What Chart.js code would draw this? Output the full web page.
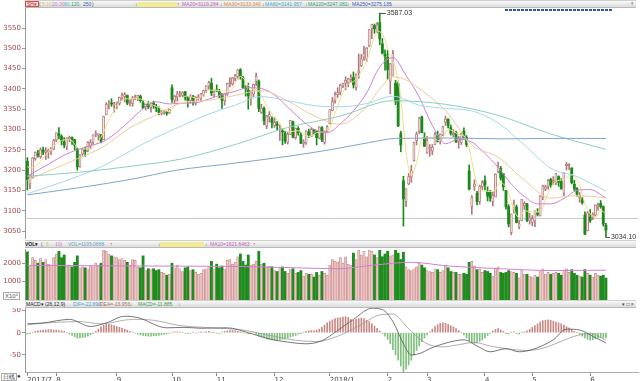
<!DOCTYPE html>
<html>
<head>
<meta charset="utf-8">
<script src="https://cdn.jsdelivr.net/npm/chart.js@4.4.0/dist/chart.umd.min.js"></script>
<style>
html, body { margin: 0; padding: 0; background: #fff; width: 640px; height: 381px; overflow: hidden; }
canvas { position: absolute; left: 0; }
.bar { position: absolute; left: 25px; width: 611px; height: 6px; background: linear-gradient(#f8f8f8, #dcdcdc);
       border-top: 1px solid #d0d0d0; border-bottom: 1px solid #bababa; font: 5px "Liberation Sans", sans-serif; z-index: 2; }
.bar span { position: absolute; top: 0.5px; line-height: 5px; white-space: nowrap; }
.bar .hl { background: #f3ea96; height: 5px; }
.bar .mk { color: #2a8a2a; }
.bar .rd { color: #d03030; }
.tag { border: 1px solid #d05050; background: #f8dcdc; color: #c03030; height: 4px; line-height: 4px !important; padding: 0 1px; top: 0 !important; }
.note { position: absolute; font: 6px "Liberation Sans", sans-serif; color: #555; }
#scroll { position: absolute; left: 505px; top: 9px; width: 107px; height: 2px; z-index: 2;
          background: repeating-linear-gradient(90deg, #2b55a8 0 3px, #fff 3px 4px); }
</style>
</head>
<body>
<div class="bar" style="top:0">
  <span class="tag" style="left:0">SH▾</span>
  <span style="left:14px;color:#555">(</span>
  <span style="left:17px;color:#d8c860">5,10,</span>
  <span style="left:27px;color:#d070c8">20,30,</span>
  <span style="left:39px;color:#40b8d0">60,</span>
  <span style="left:46px;color:#30a070">120,</span>
  <span style="left:58px;color:#3060c8">250</span>
  <span style="left:67px;color:#555">)</span>
  <span class="mk" style="left:110px">↓</span>
  <span class="hl" style="left:113px;width:39px"></span>
  <span class="rd" style="left:152px">↑</span>
  <span style="left:157px;color:#c060c0">MA20=3119.284</span>
  <span class="mk" style="left:195px">↓</span>
  <span style="left:199px;color:#d89040">MA30=3133.340</span>
  <span class="mk" style="left:237px">↓</span>
  <span style="left:240px;color:#40a8d0">MA60=3141.957</span>
  <span class="mk" style="left:280px">↓</span>
  <span style="left:283px;color:#30a070">MA120=3247.082</span>
  <span class="mk" style="left:322px">↓</span>
  <span style="left:327px;color:#3060c0">MA250=3275.135</span>
  <span class="mk" style="left:365px">↓</span>
  <span style="left:605px;color:#555">⇡</span>
</div>
<div id="scroll"></div>
<div class="bar" style="top:240px">
  <span style="left:0;color:#222;font-weight:bold">VOL▾</span>
  <span style="left:16px;color:#555">(</span>
  <span style="left:21px;color:#d8c860">5,</span>
  <span style="left:30px;color:#d070c8">10)</span>
  <span style="left:43px;color:#60a0d0">VOL=1195.0888</span>
  <span class="rd" style="left:85px">↑</span>
  <span class="mk" style="left:133px">↓</span>
  <span class="hl" style="left:135px;width:44px"></span>
  <span class="mk" style="left:180px">↓</span>
  <span style="left:185px;color:#c060c0">MA10=1621.6463</span>
  <span class="rd" style="left:228px">↑</span>
</div>
<div class="bar" style="top:300px">
  <span style="left:1px;color:#222">MACD▾ (26,12,9)</span>
  <span style="left:48px;color:#50a0d0">DIF=-22.899</span>
  <span class="mk" style="left:72px">↓</span>
  <span style="left:75px;color:#b07050">DEA=-16.956</span>
  <span class="mk" style="left:105px">↓</span>
  <span style="left:113px;color:#40a040">MACD=-11.885</span>
  <span class="mk" style="left:153px">↓</span>
  <span style="left:597px;color:#444">▾ □ ×</span>
</div>
<div class="note" style="left:3px;top:292px;border:1px solid #aaa;padding:0 1px;line-height:6px">X10⁵</div>
<div class="note" style="left:1px;top:373px;border:1px solid #aaa;padding:0 1px;line-height:6px;color:#333">日线</div>
<div class="note" style="left:17px;top:373px;color:#333">●</div>

<canvas id="c1" width="640" height="233" style="top:8px"></canvas>
<canvas id="c2" width="640" height="51" style="top:249px"></canvas>
<canvas id="c3" width="640" height="73" style="top:308px"></canvas>

<script>
// trading days, index 0 = 2017-07-17 ... index 220 = 2018-06-11
const monthStarts = [0, 11, 34, 55, 72, 94, 115, 137, 152, 174, 192, 214];
const monthLabels = ['2017/7', '8', '9', '10', '11', '12', '2018/1', '2', '3', '4', '5', '6'];

const openP = [
  3222,3166,3182,3228,3240,3233,3250,3244,3246,3245,3252,
  3274,3290,3283,3269,3257,3277,3280,3275,3252,3208,3240,3248,3247,3259,3269,3287,3286,3287,3275,3336,3363,3364,3361,
  3365,3364,3377,3381,3384,3364,3364,3377,3377,3382,3366,3356,3363,3354,3366,3357,3351,3340,3341,3342,3341,
  3403,3372,3380,3386,3384,3393,3377,3372,3382,3365,3378,3379,3387,3396,3407,3414,3385,
  3396,3393,3383,3371,3388,3413,3413,3426,3430,3447,3427,3401,3397,3376,3387,3419,3419,3342,3352,3309,3331,3327,
  3310,3314,3301,3296,3290,3269,3288,3319,3280,3303,3287,3266,3267,3295,3283,3298,3295,3279,3305,3268,3295,
  3314,3347,3371,3386,3392,3407,3414,3415,3423,3428,3403,3439,3458,3478,3473,3506,3549,3556,3541,3563,3511,3485,
  3478,3419,3434,3414,3413,3290,3174,3123,3166,3183,3223,3273,3296,3331,3280,
  3242,3253,3247,3263,3285,3272,3286,3318,3325,3305,3287,3293,3271,3268,3296,3281,3198,3110,3160,3143,3123,3160,
  3174,3148,3146,3123,3134,3196,3204,3191,3150,3110,3046,3102,3109,3060,3075,3112,3117,3075,
  3071,3075,3094,3087,3134,3153,3160,3177,3171,3171,3184,3172,3143,3211,3211,3205,3165,3155,3133,3127,3089,3051,
  3084,3084,3089,3112,3118,3110,3064
];
const highP = [
  3231,3188,3231,3245,3249,3255,3257,3256,3252,3256,3276,
  3292,3305,3287,3280,3280,3284,3282,3276,3255,3238,3254,3257,3270,3275,3287,3297,3290,3288,3333,3366,3371,3376,3367,
  3368,3380,3390,3391,3385,3373,3382,3385,3384,3385,3371,3363,3369,3366,3370,3362,3356,3347,3347,3345,3350,
  3410,3384,3394,3394,3393,3394,3381,3386,3384,3381,3386,3389,3397,3408,3419,3426,3397,
  3410,3399,3389,3389,3414,3428,3428,3436,3448,3450,3431,3408,3414,3395,3412,3439,3422,3362,3356,3335,3344,3331,
  3329,3320,3311,3302,3296,3294,3323,3321,3304,3307,3292,3275,3297,3301,3303,3300,3297,3307,3307,3297,3310,
  3349,3379,3392,3403,3412,3414,3430,3426,3435,3442,3437,3486,3485,3505,3502,3546,3560,3560,3564,3587.03,3524,3496,
  3495,3463,3495,3421,3418,3296,3185,3154,3192,3212,3269,3294,3330,3333,3292,
  3283,3263,3263,3293,3296,3289,3308,3333,3327,3311,3300,3296,3283,3290,3304,3285,3213,3137,3176,3148,3163,3174,
  3186,3159,3150,3145,3191,3220,3209,3192,3150,3115,3092,3126,3114,3077,3128,3122,3118,3094,
  3088,3100,3105,3137,3163,3163,3177,3180,3184,3192,3186,3179,3194,3219,3216,3206,3175,3157,3145,3133,3097,3098,
  3103,3095,3115,3119,3125,3112,3069
];
const lowP = [
  3151,3154,3180,3224,3232,3229,3238,3226,3229,3238,3250,
  3270,3277,3262,3255,3250,3270,3263,3250,3200,3207,3236,3234,3245,3252,3263,3282,3274,3267,3275,3336,3351,3357,3343,
  3351,3360,3372,3368,3361,3358,3357,3373,3371,3367,3352,3348,3351,3343,3352,3344,3336,3336,3337,3335,3339,
  3367,3366,3370,3380,3381,3372,3355,3365,3360,3360,3372,3371,3382,3391,3399,3383,3381,
  3393,3377,3352,3360,3384,3405,3409,3420,3424,3424,3401,3382,3350,3360,3381,3408,3344,3340,3312,3302,3318,3304,
  3305,3299,3273,3262,3266,3264,3288,3279,3276,3286,3265,3256,3263,3280,3282,3288,3262,3277,3270,3264,3293,
  3314,3346,3365,3379,3385,3403,3398,3405,3417,3402,3397,3426,3455,3470,3467,3504,3524,3537,3538,3509,3486,3446,
  3424,3388,3434,3361,3307,3245,3062,3110,3164,3170,3222,3262,3290,3292,3258,
  3242,3234,3238,3263,3269,3264,3285,3310,3304,3286,3282,3268,3254,3263,3280,3258,3151,3091,3150,3114,3116,3152,
  3151,3124,3123,3112,3134,3193,3175,3150,3104,3060,3041,3094,3070,3055,3075,3103,3073,3067,
  3063,3061,3087,3087,3127,3149,3153,3157,3164,3164,3160,3153,3137,3200,3201,3166,3149,3136,3121,3116,3041,3050,
  3071,3078,3087,3101,3106,3062,3034.10
];
const closeP = [
  3176,3187,3230,3244,3237,3250,3244,3247,3249,3253,3273,
  3292,3285,3272,3262,3279,3281,3275,3261,3208,3237,3251,3246,3268,3268,3287,3290,3287,3271,3332,3362,3365,3363,3361,
  3367,3379,3385,3386,3365,3365,3376,3379,3384,3371,3353,3362,3356,3366,3358,3353,3342,3343,3345,3340,3349,
  3374,3382,3388,3386,3391,3378,3372,3381,3370,3379,3380,3388,3396,3407,3416,3390,3393,
  3395,3384,3372,3388,3414,3416,3427,3433,3447,3430,3403,3400,3383,3393,3411,3431,3352,3353,3322,3333,3337,3317,
  3318,3310,3304,3294,3272,3289,3322,3281,3303,3292,3266,3268,3297,3287,3300,3297,3280,3306,3275,3296,3307,
  3349,3369,3386,3391,3409,3413,3421,3425,3428,3410,3436,3444,3474,3487,3501,3546,3559,3548,3558,3523,3488,3481,
  3447,3462,3487,3370,3309,3262,3129,3154,3184,3199,3268,3289,3329,3292,3259,
  3273,3254,3256,3289,3271,3288,3307,3326,3310,3291,3291,3269,3279,3290,3281,3263,3153,3133,3166,3122,3160,3169,
  3163,3136,3131,3138,3190,3208,3180,3159,3110,3067,3092,3117,3071,3068,3128,3118,3076,3082,
  3081,3100,3091,3136,3161,3159,3174,3163,3174,3192,3170,3154,3193,3214,3214,3169,3154,3141,3135,3120,3042,3095,
  3075,3091,3114,3115,3110,3067,3052
];
const volume = [
  2620,1900,2300,2150,2000,2250,2050,2200,1950,1900,2300,
  2500,2650,2300,2450,1850,1900,1800,2050,2400,1750,1800,1750,1700,1850,1800,2000,1900,2000,2700,2650,2500,2400,2350,
  2300,2200,2250,2150,2050,1900,2200,2150,1800,1750,2400,1600,1700,1650,1700,1600,1650,1500,1450,1350,1400,
  2000,1750,1900,1700,1550,1750,1800,1600,1650,1500,1400,1450,1650,1700,1800,2100,1700,
  1950,1750,1850,1700,2150,2200,1950,2050,2350,2500,2100,1900,2450,1900,1950,2100,2650,1950,2000,1800,1850,1800,
  1600,1550,1750,1800,1550,1450,1650,1700,1450,1500,1600,1300,1450,1400,1400,1250,1500,1350,1550,1450,1350,
  1900,2200,2100,2050,2300,2000,2350,1950,1900,2550,2200,2700,2450,2650,2350,2700,2650,2450,2300,2700,2350,2500,
  2650,2400,2450,2700,2550,2200,2600,1800,1650,1600,1700,1800,2000,1900,1750,
  1600,1550,1500,1700,1650,1500,1600,1900,1750,1550,1500,1500,1400,1400,1450,1400,2050,2100,1850,1650,1700,1500,
  1600,1550,1450,1300,1700,1800,1500,1450,1500,1600,1550,1500,1450,1200,1600,1400,1400,1300,
  1250,1350,1250,1550,1700,1400,1500,1400,1450,1500,1450,1350,1550,1700,1500,1650,1450,1350,1300,1250,1650,1450,
  1350,1250,1450,1350,1300,1350,1195
];
const macdHist = [
  -3,-2,1,3,4,5,6,6,7,7, 6,6,5,4,3,0,-3,-6,-9,-12, -12,-11,-10,-8,-5,-2,3,8,13,17,
  19,19,18,16,14,12,10,8,6,3, 1,-1,-3,-5,-6,-7,-8,-8,-7,-7, -6,-5,-4,-3,-2,1,2,2,1,1,
  -1,-2,-1,1,-1,1,2,1,2,3, 1,0,-1,-2,1,3,4,5,5,4, 3,2,1,-1,-3,-2,1,-4,-8,-10,
  -12,-14,-15,-16,-17,-17,-16,-15,-14,-12, -10,-8,-6,-3,-2,1,3,4,5,4, 6,8,12,17,22,26,29,32,33,34,
  35,36,34,30,28,30,32,33,31,28, 25,20,15,10,4,-2,-8,-15,-25,-38, -50,-62,-75,-88,-82,-72,-62,-50,-40,-30,
  -20,-12,-5,2,8,14,18,21,22,21, 19,16,13,9,5,1,-5,-12,-18,-22, -24,-23,-20,-16,-12,-6,-2,4,7,9,
  6,3,-2,-3,1,2,-2,-3,1,2, 4,8,12,16,20,24,27,28,29,28, 26,24,22,20,17,14,11,7,3,0,
  -4,-8,-12,-15,-17,-16,-14,-12,-11,-12, -12
];

// moving averages as [day index, value]
const ma5 = [[0,3208],[2,3205],[4,3215],[8,3245],[12,3270],[16,3276],[20,3252],[24,3254],[28,3281],[31,3323],[35,3367],
  [39,3376],[43,3375],[47,3362],[51,3352],[54,3344],[57,3367],[61,3383],[65,3376],[69,3397],[73,3396],[77,3395],
  [81,3431],[85,3402],[88,3394],[91,3358],[95,3323],[99,3294],[103,3297],[107,3282],[111,3294],[114,3293],[117,3341],
  [121,3404],[125,3424],[129,3468],[132,3528],[133,3542],[135,3535],[138,3480],[140,3449],[142,3378],[144,3245],
  [146,3186],[148,3219],[150,3275],[153,3281],[157,3272],[160,3300],[164,3288],[167,3276],[168,3253],[171,3167],
  [173,3150],[177,3147],[180,3169],[183,3145],[184,3122],[187,3083],[189,3100],[192,3097],[195,3098],[198,3144],
  [201,3172],[204,3177],[207,3189],[210,3163],[212,3118],[214,3093],[216,3083],[218,3101],[220,3092]];
const ma20 = [[0,3185],[4,3200],[9,3218],[14,3237],[19,3250],[24,3260],[29,3271],[34,3293],[39,3322],[44,3351],[49,3368],
  [54,3363],[59,3365],[64,3366],[69,3375],[74,3386],[79,3394],[84,3403],[89,3401],[94,3385],[99,3355],[104,3325],
  [109,3301],[114,3292],[119,3314],[124,3346],[129,3390],[134,3454],[139,3477],[144,3433],[149,3380],[154,3310],
  [159,3265],[164,3276],[169,3269],[174,3241],[179,3207],[184,3166],[189,3135],[194,3117],[199,3117],[204,3130],
  [209,3150],[214,3152],[220,3131]];
const ma30 = [[0,3175],[9,3200],[19,3228],[29,3258],[39,3304],[49,3336],[59,3366],[69,3372],[79,3384],[89,3396],[99,3370],
  [109,3334],[119,3313],[129,3357],[134,3400],[139,3430],[144,3422],[149,3401],[154,3376],[159,3347],[169,3262],
  [179,3232],[189,3175],[199,3131],[209,3137],[220,3132]];
const ma60 = [[0,3142],[13,3170],[28,3208],[35,3232],[45,3268],[59,3310],[69,3338],[79,3360],[89,3381],[99,3371],
  [109,3359],[119,3356],[129,3364],[139,3382],[149,3360],[159,3352],[169,3346],[179,3316],[189,3262],[199,3205],
  [209,3184],[220,3148]];
const ma120 = [[0,3185],[20,3195],[40,3210],[59,3228],[80,3265],[99,3305],[119,3333],[139,3371],[159,3362],[179,3335],
  [199,3289],[220,3251]];
const ma250 = [[0,3139],[20,3157],[40,3178],[56,3199],[80,3218],[100,3235],[115,3250],[130,3268],[140,3278],[160,3279],
  [180,3277],[200,3278],[220,3278]];
const volMa = [[0,1880],[40,1850],[80,1820],[100,1760],[118,1700],[132,1900],[146,2050],[160,1850],[180,1700],[200,1600],[220,1620]];
const dif = [[0,20],[6,22],[16,30],[24,14],[30,22],[37,37],[42,34],[53,11],[60,12],[66,10],[76,11],[84,0],[92,-14],[100,-22],
  [106,-25],[112,-18],[118,5],[124,30],[131,55],[135,52],[139,25],[143,-25],[146,-50],[150,-45],[153,-36],[160,-22],
  [166,-16],[171,-30],[176,-43],[182,-36],[187,-43],[192,-38],[200,-16],[205,8],[210,6],[215,-8],[220,-23]];
const dea = [[0,18],[10,23],[20,25],[28,20],[40,30],[48,28],[58,16],[70,11],[82,6],[92,-6],[102,-17],[110,-20],[118,-8],
  [126,15],[134,40],[139,42],[144,15],[148,-8],[152,-25],[158,-32],[164,-27],[170,-22],[176,-30],[182,-36],[190,-40],
  [196,-35],[202,-22],[208,-8],[214,-2],[220,-17]];

const priceTicks = [3050, 3100, 3150, 3200, 3250, 3300, 3350, 3400, 3450, 3500, 3550];
const volTicks = [1000, 2000];
const macdTicks = [-50, 0, 50];
const refLevel = 3081;

Chart.defaults.font.family = '"DejaVu Sans", sans-serif';

const X_MIN = -0.9, X_MAX = 232.2;
const isUp = i => closeP[i] >= openP[i];
const pts = arr => arr.map(([x, y]) => ({ x, y }));

function xAxis(show) {
  const ax = { type: 'linear', min: X_MIN, max: X_MAX, offset: false, display: show,
               grid: { offset: false, drawOnChartArea: false } };
  if (show) {
    Object.assign(ax, {
      afterBuildTicks: s => { s.ticks = monthStarts.map(v => ({ value: v })); },
      afterFit: s => { s.height = 9; s.paddingLeft = 0; s.paddingRight = 0; },
      ticks: { callback: v => monthLabels[monthStarts.indexOf(v)], align: 'start', autoSkip: false, maxRotation: 0,
               font: { size: 7 }, color: '#444', padding: 0 },
      grid: { offset: false, drawOnChartArea: false, tickLength: 4, color: '#888' },
      border: { color: '#aaa' }
    });
  }
  return ax;
}

function yAxis(min, max, ticks) {
  return {
    min, max,
    afterBuildTicks: s => { s.ticks = ticks.map(v => ({ value: v })); },
    afterFit: s => { s.width = 25; s.paddingTop = 0; s.paddingBottom = 0; },
    ticks: { callback: v => String(v), font: { size: 7 }, color: '#a04848', padding: 1 },
    grid: { drawOnChartArea: false, tickLength: 3, color: '#999' },
    border: { color: '#999', dash: [1, 1] }
  };
}

function maLine(data, color) {
  return { type: 'line', data: pts(data), borderColor: color, borderWidth: 1, pointRadius: 0,
           cubicInterpolationMode: 'monotone', order: 1 };
}

const base = {
  responsive: false, animation: false, events: [],
  plugins: { legend: { display: false }, tooltip: { enabled: false } }
};

// labels for the highest high and lowest low
const extremeLabels = {
  id: 'extremeLabels',
  afterDatasetsDraw(chart) {
    const { ctx, scales: { x, y } } = chart;
    const hi = highP.indexOf(Math.max(...highP));
    const lo = lowP.indexOf(Math.min(...lowP));
    ctx.save();
    ctx.font = '7px "Liberation Sans"';
    ctx.fillStyle = '#333';
    ctx.strokeStyle = '#555';
    ctx.lineWidth = 1;
    ctx.textBaseline = 'middle';
    [[hi, highP[hi], 6], [lo, lowP[lo], 4]].forEach(([i, v, len]) => {
      const px = x.getPixelForValue(i);
      const py = Math.round(y.getPixelForValue(v)) + 0.5;
      ctx.beginPath(); ctx.moveTo(px, py); ctx.lineTo(px + len, py); ctx.stroke();
      ctx.fillText(v.toFixed(2), px + len + 1, py);
    });
    ctx.restore();
  }
};

new Chart(document.getElementById('c1'), {
  type: 'bar',
  data: {
    datasets: [
      { data: lowP.map((l, i) => ({ x: i, y: [l, highP[i]] })), grouped: false, barThickness: 1, order: 5,
        backgroundColor: lowP.map((_, i) => isUp(i) ? '#b07a7a' : '#1b8a1b') },
      { data: openP.map((o, i) => ({ x: i, y: [o, closeP[i]] })), grouped: false, barThickness: 2.2, minBarLength: 1, order: 4,
        borderSkipped: false,
        backgroundColor: openP.map((_, i) => isUp(i) ? '#f5e2e2' : '#1b8a1b'),
        borderColor: openP.map((_, i) => isUp(i) ? '#b27474' : '#1b8a1b'),
        borderWidth: openP.map((_, i) => isUp(i) ? 0.8 : 0) },
      { type: 'line', data: [{ x: X_MIN, y: refLevel }, { x: X_MAX, y: refLevel }], borderColor: '#c8c8c8',
        borderWidth: 1, pointRadius: 0, order: 6 },
      maLine(ma250, '#7fa4c8'),
      maLine(ma120, '#8ccfb8'),
      maLine(ma60, '#a3d6ee'),
      maLine(ma30, '#ecca96'),
      maLine(ma20, '#d27fd2'),
      maLine(ma5, '#ece08a')
    ]
  },
  options: Object.assign({}, base, {
    layout: { padding: { left: 0, right: 2, top: 0, bottom: 3 } },
    scales: { x: xAxis(false), y: yAxis(3032.8, 3599.3, priceTicks) }
  }),
  plugins: [extremeLabels]
});

new Chart(document.getElementById('c2'), {
  type: 'bar',
  data: {
    datasets: [
      { data: volume.map((v, i) => ({ x: i, y: v })), barThickness: 2.2, order: 3,
        backgroundColor: volume.map((_, i) => isUp(i) ? '#eec4c4' : '#1e8c1e'),
        borderColor: volume.map((_, i) => isUp(i) ? '#c08484' : '#1e8c1e'),
        borderWidth: volume.map((_, i) => isUp(i) ? 0.6 : 0), borderSkipped: 'start' },
      maLine(volMa, '#d27fd2')
    ]
  },
  options: Object.assign({}, base, {
    layout: { padding: { left: 0, right: 2, top: 0, bottom: 0 } },
    scales: { x: xAxis(false), y: yAxis(0, 2772, volTicks) }
  })
});

new Chart(document.getElementById('c3'), {
  type: 'bar',
  data: {
    datasets: [
      { data: macdHist.map((v, i) => ({ x: i, y: v })), barThickness: 1, order: 3,
        backgroundColor: macdHist.map(v => v >= 0 ? '#c98a84' : '#7fc07f') },
      Object.assign(maLine(dif, '#555'), { borderWidth: 0.8 }),
      Object.assign(maLine(dea, '#9a9a9a'), { borderWidth: 0.8 })
    ]
  },
  options: Object.assign({}, base, {
    layout: { padding: { left: 0, right: 2, top: 0, bottom: 0 } },
    scales: { x: xAxis(true), y: yAxis(-88.5, 55.6, macdTicks) }
  })
});
</script>
</body>
</html>
